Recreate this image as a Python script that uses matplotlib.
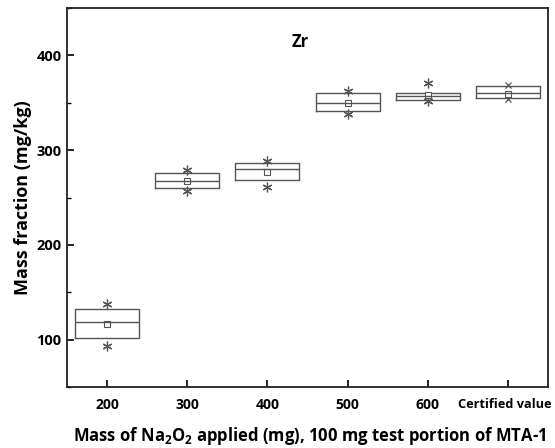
import numpy as np
import matplotlib
matplotlib.use("Agg")
import matplotlib.pyplot as plt
from matplotlib.ticker import MultipleLocator
from matplotlib.transforms import ScaledTranslation

plt.rcParams['font.family'] = ['Open Sans', 'DejaVu Sans']
plt.rcParams['mathtext.fontset'] = 'custom'
plt.rcParams['mathtext.rm'] = 'Open Sans:bold'
plt.rcParams['mathtext.bf'] = 'Open Sans:bold'

# Zr mass fraction (mg/kg) per amount of Na2O2
labels = ['200', '300', '400', '500', '600', 'Certified value']
q1 = [102, 260, 269, 341, 352.6, 355.5]
med = [119, 267.4, 279.6, 350.2, 357, 360]
q3 = [132.6, 275.8, 286.6, 360.3, 360.7, 367.4]
means = [117, 267, 277, 350, 358, 359.7]
lo = [93, 257, 261.4, 338, 351.6, 354]
hi = [138, 279, 288.8, 362.4, 370.8, 369]

fig = plt.figure(figsize=(5.55, 4.48), dpi=100)
ax = fig.add_axes([0.1207, 0.1362, 0.8667, 0.8458])

stats = []
for i in range(len(labels)):
    stats.append(dict(q1=q1[i], med=med[i], q3=q3[i],
                      whislo=q1[i], whishi=q3[i], fliers=[], label=labels[i]))

pos = np.arange(1, len(labels) + 1)
col = '#555555'
ax.bxp(stats, positions=pos, widths=0.8, showcaps=False, showfliers=False,
       boxprops=dict(color=col, linewidth=1.0),
       medianprops=dict(color=col, linewidth=1.0),
       whiskerprops=dict(color=col, linewidth=0.8))

# min / max markers
ax.plot(pos[:5], lo[:5], ls='none', marker=(6, 2, 0), ms=7, mec=col, mew=0.9)
ax.plot(pos[:5], hi[:5], ls='none', marker=(6, 2, 0), ms=7, mec=col, mew=0.9)
ax.plot(pos[5:], lo[5:], ls='none', marker='x', ms=4, mec=col, mew=0.9)
ax.plot(pos[5:], hi[5:], ls='none', marker='x', ms=4, mec=col, mew=0.9)
# means
ax.plot(pos, means, ls='none', marker='s', ms=4, mfc='white', mec=col, mew=0.8)

ax.set_xlim(0.5, 6.5)
ax.set_ylim(50, 450)
ax.set_xticks(pos)
ax.set_xticklabels(labels, fontweight='bold', fontsize=10)
ax.yaxis.set_major_locator(MultipleLocator(100))
ax.yaxis.set_minor_locator(MultipleLocator(50))
ax.set_yticks([100, 200, 300, 400])
ax.set_yticklabels(['100', '200', '300', '400'], fontweight='bold', fontsize=10.5)
ax.tick_params(axis='both', which='major', direction='in', length=5, width=1.2,
               top=False, right=False)
ax.tick_params(axis='x', which='major', pad=8)
ax.tick_params(axis='y', which='major', pad=4)
ax.tick_params(axis='y', which='minor', direction='in', length=3, width=1.0, right=False)
ax.tick_params(axis='x', which='minor', bottom=False)
# last label is narrow in the original, squeeze it to stay inside
lab = ax.get_xticklabels()[-1]
lab.set_fontsize(9.2)
lab.set_transform(lab.get_transform() + ScaledTranslation(-3 / 100, 0, fig.dpi_scale_trans))
for s in ax.spines.values():
    s.set_linewidth(1.3)
    s.set_color('#222222')

ax.set_ylabel('Mass fraction (mg/kg)', fontweight='bold', fontsize=13)
ax.yaxis.set_label_coords(-0.073, 0.5)
ax.set_xlabel('Mass of Na$_2$O$_2$ applied (mg), 100 mg test portion of MTA-1',
              fontweight='bold', fontsize=12)
ax.xaxis.set_label_coords(0.505, -0.1)
ax.text(0.484, 0.91, 'Zr', transform=ax.transAxes, fontweight='bold', fontsize=12,
        ha='center', va='center')

fig.savefig('out.png', dpi=100)
